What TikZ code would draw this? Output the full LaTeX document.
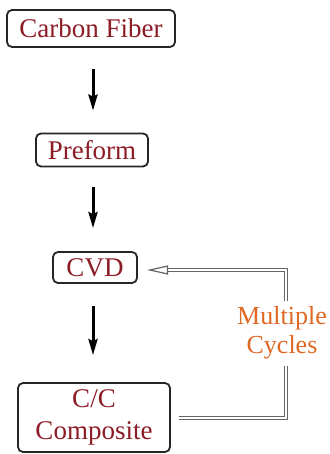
\documentclass[tikz,border=0pt]{standalone}
\usepackage{fontspec}
\setmainfont{Liberation Serif}
\usetikzlibrary{arrows.meta}
\definecolor{boxtext}{RGB}{140,28,38}
\definecolor{cyc}{RGB}{222,104,36}
\definecolor{fb}{RGB}{100,100,100}
\begin{document}
\begin{tikzpicture}[x=1pt,y=-1pt,
  stage/.style={draw=black!85, line width=1.8pt, rounded corners=5pt, fill=white,
    text=boxtext, font=\fontsize{27}{32}\selectfont, inner sep=0pt, align=center},
  flow/.style={line width=3pt, -{Stealth[length=16pt,width=9pt,inset=2pt]}},
  fbline/.style={draw=fb, double=white, line width=1.2pt, double distance=1.3pt}
]
\useasboundingbox (0,0) rectangle (329,454);
\node[stage, minimum width=168pt, minimum height=37pt] (cf) at (91,28.5) {Carbon Fiber};
\node[stage, minimum width=112pt, minimum height=33pt] (pf) at (92,150) {Preform};
\node[stage, minimum width=84pt, minimum height=31pt] (cvd) at (95,267.5) {CVD};
\node[stage, minimum width=152pt, minimum height=69pt] (cc) at (94,417.5) {C/C\\Composite};
\node[text=cyc, font=\fontsize{26}{29}\selectfont, align=center, inner sep=0pt] (mc) at (282,333) {Multiple\\Cycles};
\draw[flow, shorten <=21pt, shorten >=22pt] ([xshift=2pt]cf.south) -- ([xshift=1pt]pf.north);
\draw[flow, shorten <=20pt, shorten >=23pt] ([xshift=1pt]pf.south) -- ([xshift=-2pt]cvd.north);
\draw[flow, shorten <=22pt, shorten >=27pt] ([xshift=-2pt]cvd.south) -- ([xshift=-1pt]cc.north);
\coordinate (c1) at (286,418);
\coordinate (c2) at (286,366);
\coordinate (c3) at (286,301);
\coordinate (c4) at (286,270);
\coordinate (tipbase) at (167,270);
\coordinate (tip) at (147,270);
\draw[fbline] ([xshift=8pt]cc.east |- c1) -- (c1) -- (c2);
\draw[fbline] (c3) -- (c4) -- (tipbase);
\draw[fb, line width=1.2pt, -{Triangle[open, length=21pt, width=9pt]}] (tipbase) -- (tip);
\end{tikzpicture}
\end{document}
